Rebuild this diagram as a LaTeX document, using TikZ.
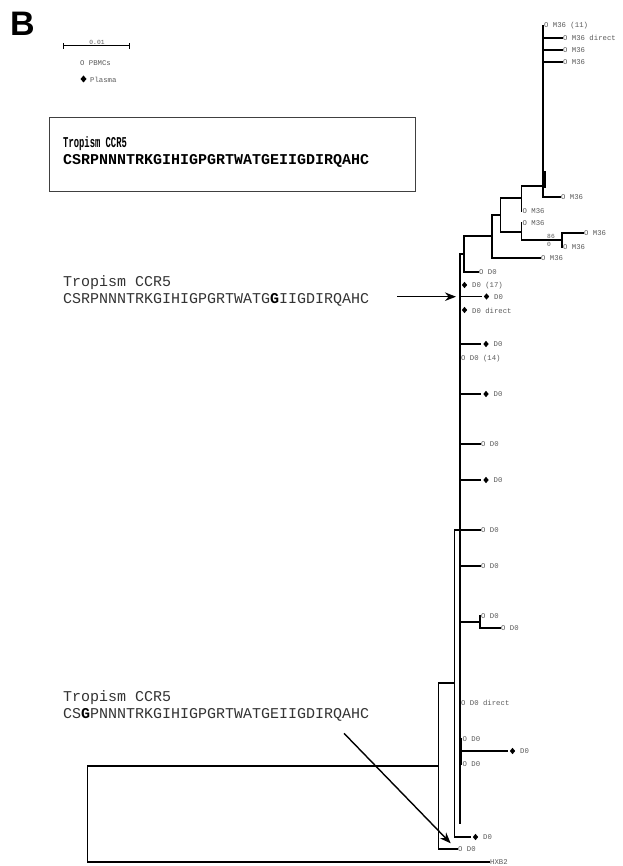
\documentclass[tikz,border=0pt]{standalone}
\usepackage{graphicx}
\usepackage{fontspec}
\setmainfont{Liberation Serif}
\newfontfamily\mono{Liberation Mono}
\newfontfamily\sansb{Liberation Sans}
\usetikzlibrary{shapes.geometric,arrows.meta}
\begin{document}
\begin{tikzpicture}[x=1pt,y=-1pt,
  br/.style={line width=1.5pt, line cap=rect},
  lab/.style={font=\mono\fontsize{7.3}{8}\selectfont, text=black!65, inner sep=1pt, anchor=west},
  tiny/.style={font=\mono\fontsize{6.3}{7}\selectfont, text=black!65, inner sep=0pt},
  dia/.style={diamond, fill=black, inner sep=0pt, minimum width=7pt, minimum height=8pt, outer sep=2pt},
  big/.style={font=\mono\fontsize{15}{17.6}\selectfont, text=black!80, anchor=base west, inner sep=0pt},
  bigb/.style={big, font=\mono\bfseries\fontsize{15}{17.6}\selectfont, text=black},
  arr/.style={line width=1.4pt, -{Stealth[length=11pt,width=8.5pt]}},
]
\useasboundingbox (0,0) rectangle (622,866);

% panel letter
\node[font=\sansb\bfseries\fontsize{34}{34}\selectfont, anchor=base west, inner sep=0pt] (letter) at (10,36) {B};

% scale bar and legend
\coordinate (sb1) at (63,46);
\coordinate (sb2) at (129,46);
\draw[line width=1pt] (sb1) -- (sb2);
\draw[line width=1pt] ([yshift=-3pt]sb1) -- ([yshift=3pt]sb1);
\draw[line width=1pt] ([yshift=-3pt]sb2) -- ([yshift=3pt]sb2);
\node[tiny] (sbl) at (97,42) {0.01};
\node[lab] (lgo) at (79,63) {O PBMCs};
\node[dia, minimum width=6pt, minimum height=7pt, outer sep=0pt] (lgd) at (83.5,79) {};
\node[lab] (lgp) at (89,79.5) {Plasma};

% boxed sequence
\node[draw=black!75, line width=1pt, minimum width=365.7pt, minimum height=73.7pt, inner sep=0pt] (box) at (232.2,154.2) {};
\node[bigb] (bt1) at (63,147.6) {\scalebox{0.59}[1]{Tropism CCR5}};
\node[bigb] (bt2) at (63,165) {CSRPNNNTRKGIHIGPGRTWATGEIIGDIRQAHC};

% middle annotation
\node[big] (mt1) at (63,286) {Tropism CCR5};
\node[big] (mt2) at (63,303.6) {CSRPNNNTRKGIHIGPGRTWATG{\bfseries\color{black}G}IIGDIRQAHC};
\coordinate (a1s) at (397,296.7);
\coordinate (a1e) at (456,296.7);
\draw[arr] (a1s) -- (a1e);

% bottom annotation
\node[big] (lt1) at (63,701) {Tropism CCR5};
\node[big] (lt2) at (63,718.3) {CS{\bfseries\color{black}G}PNNNTRKGIHIGPGRTWATGEIIGDIRQAHC};
\coordinate (a2s) at (344,733.3);
\coordinate (a2e) at (450.7,843.3);
\draw[arr] (a2s) -- (a2e);

% ---------- tree: internal nodes ----------
\coordinate (R) at (87.5,813);
\coordinate (N438) at (438.5,766);
\coordinate (F) at (454.5,683);
\coordinate (G) at (460,530);
\coordinate (Gend) at (460,823);
\coordinate (E) at (464,254);
\coordinate (D) at (492,236);
\coordinate (N500) at (500.5,215);
\coordinate (A) at (521.5,198);
\coordinate (K) at (543,186);
\coordinate (Kx1) at (544.8,172);
\coordinate (Kx2) at (544.8,187);
\coordinate (Bn) at (521.5,232);
\coordinate (C) at (562,240);
\coordinate (H) at (480,622);
\coordinate (I) at (461.5,751);

% ---------- leaves ----------
\node[lab] (m1) at (543,26) {O M36 (11)};
\node[lab] (m2) at (562,38) {O M36 direct};
\node[lab] (m3) at (562,50) {O M36};
\node[lab] (m4) at (562,62) {O M36};
\node[lab] (m5) at (560,197) {O M36};
\node[lab] (m6) at (521.5,211) {O M36};
\node[lab] (m7) at (521.5,223) {O M36};
\node[lab] (m8) at (583,233) {O M36};
\node[lab] (m9) at (562,247.5) {O M36};
\node[lab] (m10) at (540,258) {O M36};
\node[tiny] (bs1) at (551,236) {86};
\node[tiny] (bs2) at (549,244.5) {0};
\node[lab] (l1) at (478,272) {O D0};
\node[dia] (z1) at (464.5,285) {};
\node[lab] (z1t) at (471,285.5) {D0 (17)};
\node[dia] (d1) at (486.5,296.5) {};
\node[lab] (d1t) at (493,297) {D0};
\node[dia] (z2) at (464.5,310) {};
\node[lab] (z2t) at (471,310.5) {D0 direct};
\node[dia] (d2) at (486,344) {};
\node[lab] (d2t) at (492.5,344.5) {D0};
\node[lab] (z3) at (460,359) {O D0 (14)};
\node[dia] (d3) at (486,394) {};
\node[lab] (d3t) at (492.5,394.5) {D0};
\node[lab] (l2) at (480,444) {O D0};
\node[dia] (d4) at (486,480) {};
\node[lab] (d4t) at (492.5,480.5) {D0};
\node[lab] (l3) at (480,530) {O D0};
\node[lab] (l4) at (480,566) {O D0};
\node[lab] (h1) at (480,616) {O D0};
\node[lab] (h2) at (500,628) {O D0};
\node[lab] (z4) at (460,703) {O D0 direct};
\node[lab] (i1) at (461.5,739) {O D0};
\node[dia] (i2) at (512.5,751) {};
\node[lab] (i2t) at (519,751.5) {D0};
\node[lab] (i3) at (461.5,764) {O D0};
\node[dia] (d6) at (475.5,837) {};
\node[lab] (d6t) at (482,837.5) {D0};
\node[lab] (l6) at (457,849) {O D0};
\node[lab] (hx) at (489,862) {HXB2};

% ---------- branches ----------
\draw[br] (m1.west -| K) -- (m5.west -| K);
\draw[br] (Kx1) -- (Kx2);
\draw[br] (m2.west -| K) -- (m2.west);
\draw[br] (m3.west -| K) -- (m3.west);
\draw[br] (m4.west -| K) -- (m4.west);
\draw[br] (m5.west -| K) -- (m5.west);
\draw[br] (K -| A) -- (m6.west -| A);
\draw[br] (K -| A) -- (K);
\draw[br] (m8.west -| C) -- (m9.west -| C);
\draw[br] (m8.west -| C) -- (m8.west);
\draw[br] (m7.west -| Bn) -- (C -| Bn);
\draw[br] (C -| Bn) -- (C);
\draw[br] (A -| N500) -- (Bn -| N500);
\draw[br] (A -| N500) -- (A);
\draw[br] (Bn -| N500) -- (Bn);
\draw[br] (N500 -| D) -- (m10.west -| D);
\draw[br] (N500 -| D) -- (N500);
\draw[br] (m10.west -| D) -- (m10.west);
\draw[br] (D -| E) -- (l1.west -| E);
\draw[br] (D -| E) -- (D);
\draw[br] (l1.west -| E) -- (l1.west);
\draw[br] (E -| G) -- (Gend);
\draw[br] (E -| G) -- (E);
\draw[br] (d1 -| G) -- (d1.west);
\draw[br] (d2 -| G) -- (d2.west);
\draw[br] (d3 -| G) -- (d3.west);
\draw[br] (l2.west -| G) -- (l2.west);
\draw[br] (d4 -| G) -- (d4.west);
\draw[br] (l3.west -| G) -- (l3.west);
\draw[br] (l4.west -| G) -- (l4.west);
\draw[br] (H -| G) -- (H);
\draw[br] (I -| G) -- (I);
\draw[br] (h1.west -| H) -- (h2.west -| H);
\draw[br] (h2.west -| H) -- (h2.west);
\draw[br] (i1.west -| I) -- (i3.west -| I);
\draw[br] (i2 -| I) -- (i2.west);
\draw[br] (G -| F) -- (d6 -| F);
\draw[br] (G -| F) -- (G);
\draw[br] (d6 -| F) -- (d6.west);
\draw[br] (F -| N438) -- (l6.west -| N438);
\draw[br] (F -| N438) -- (F);
\draw[br] (l6.west -| N438) -- (l6.west);
\draw[br] (N438 -| R) -- (hx.west -| R);
\draw[br] (N438 -| R) -- (N438);
\draw[br] (hx.west -| R) -- (hx.west);
\end{tikzpicture}
\end{document}
